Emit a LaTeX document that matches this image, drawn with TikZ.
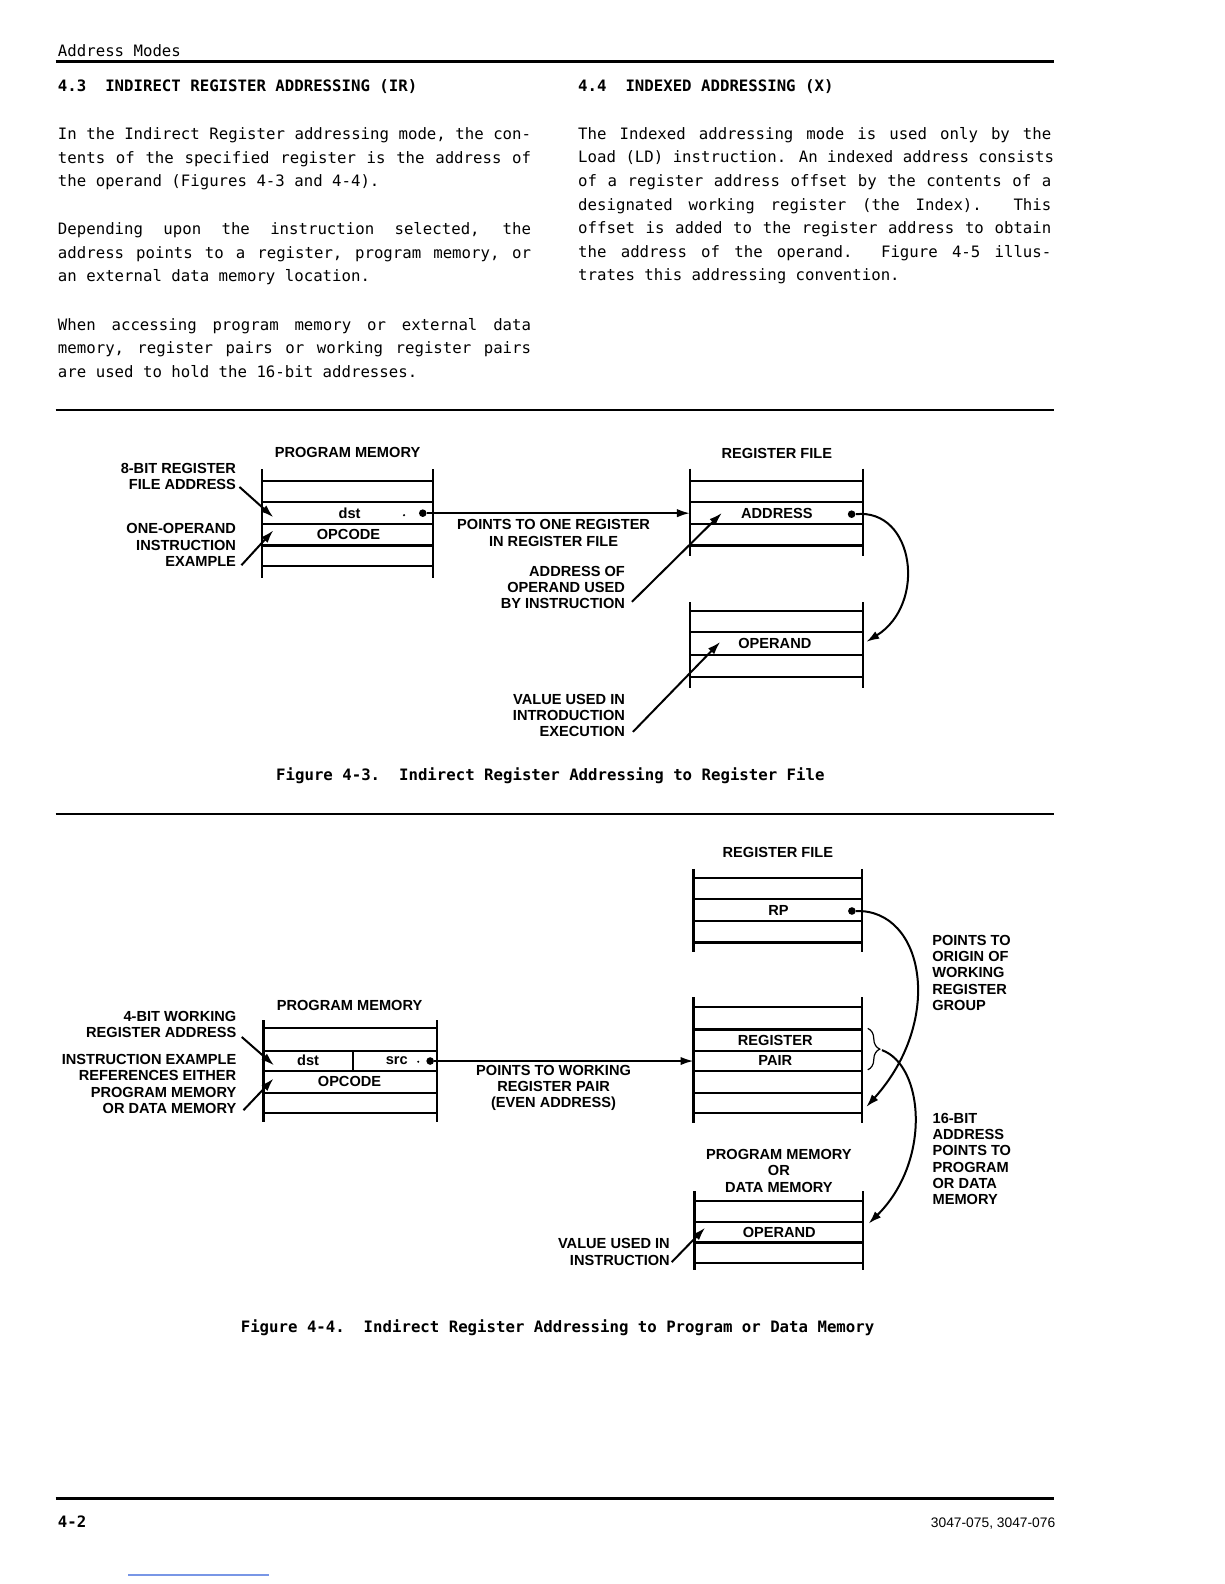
\documentclass[tikz,border=0pt]{standalone}
\usepackage{fontspec}
\setmainfont{Liberation Sans}
\newfontfamily\monof{DejaVu Sans Mono}
\newfontfamily\labf{Liberation Sans}
\usetikzlibrary{arrows.meta,decorations.pathreplacing}
\newcommand\jl[1]{\makebox[236.5pt][s]{\spaceskip=0.602em plus 1fil\relax #1}}
\begin{document}
\begin{tikzpicture}[x=0.50495pt,y=-0.50495pt,
  txt/.style={anchor=base west,inner sep=0pt,font=\monof\fontsize{7.85}{9}\selectfont},
  hd/.style={anchor=base west,inner sep=0pt,font=\monof\bfseries\fontsize{7.85}{9}\selectfont},
  lab/.style={inner sep=0pt,font=\labf\bfseries\fontsize{7.3}{8.1}\selectfont},
  mem/.style={line width=1.1pt},
  ptr/.style={line width=1pt,-{Latex[length=6.5pt,width=4.2pt]}},
  dotn/.style={circle,fill,inner sep=0pt,minimum size=3.8pt},
  sdot/.style={circle,fill,inner sep=0pt,minimum size=1.2pt},
  rulel/.style={line width=1pt},
  thickrule/.style={line width=1.4pt}]
\useasboundingbox (0,0) rectangle (1212,1568);
\fill[white] (0,0) rectangle (1212,1568);

% ---------- page header ----------
\node[txt] (hdr) at (57,56) {Address Modes};
\draw[thickrule] (55,61) -- (1043,61);
\node[hd] (h43) at (57,90.5) {4.3\ \ INDIRECT REGISTER ADDRESSING (IR)};
\node[hd] (h44) at (572,90.5) {4.4\ \ INDEXED ADDRESSING (X)};

% left column
\node[txt] (l1) at (57,138) {\jl{In the Indirect Register addressing mode, the con-}};
\node[txt] (l2) at (57,161.5) {\jl{tents of the specified register is the address of}};
\node[txt] (l3) at (57,185) {the operand (Figures 4-3 and 4-4).};
\node[txt] (l4) at (57,232) {\jl{Depending upon the instruction selected, the}};
\node[txt] (l5) at (57,255.5) {\jl{address points to a register, program memory, or}};
\node[txt] (l6) at (57,279) {an external data memory location.};
\node[txt] (l7) at (57,327) {\jl{When accessing program memory or external data}};
\node[txt] (l8) at (57,350) {\jl{memory, register pairs or working register pairs}};
\node[txt] (l9) at (57,373.5) {are used to hold the 16-bit addresses.};

% right column
\node[txt] (r1) at (572,138) {\jl{The Indexed addressing mode is used only by the}};
\node[txt] (r2) at (572,161) {\jl{Load (LD) instruction. An indexed address consists}};
\node[txt] (r3) at (572,184.5) {\jl{of a register address offset by the contents of a}};
\node[txt] (r4) at (572,208) {\jl{designated working register (the Index).\ \ This}};
\node[txt] (r5) at (572,231.5) {\jl{offset is added to the register address to obtain}};
\node[txt] (r6) at (572,255) {\jl{the address of the operand.\ \ Figure 4-5 illus-}};
\node[txt] (r7) at (572,278) {trates this addressing convention.};

\draw[rulel] (55,406) -- (1043,406);

% ---------- Figure 4-3 ----------
\node[lab] (pmt1) at (344,448) {PROGRAM MEMORY};
\draw[mem] (259,464.6) -- (259,572) (429,464.6) -- (429,572);
\foreach \y in {476,497,519,540,560} \draw[mem] (259,\y) -- (429,\y);
\node[lab] (dst1) at (346,508) {dst};
\node[lab] (opc1) at (345,529.5) {OPCODE};
\node[sdot] (sd1) at (400,510) {};
\node[dotn] (d1) at (418.5,508) {};

\node[lab] (rft1) at (769,449) {REGISTER FILE};
\draw[mem] (683,464) -- (683,550) (854,464) -- (854,550);
\foreach \y in {476,497,519,540} \draw[mem] (683,\y) -- (854,\y);
\node[lab] (addr1) at (769,508) {ADDRESS};
\node[dotn] (d2) at (843,509) {};
\coordinate (rf1in) at (683,508);

\draw[mem] (683,596) -- (683,681) (854,596) -- (854,681);
\foreach \y in {605,626,648,670} \draw[mem] (683,\y) -- (854,\y);
\node[lab] (oper1) at (767,637) {OPERAND};
\coordinate (op1in) at (857.5,635.4);

\draw[ptr] (d1) -- (rf1in);
\node[lab,align=center] (pt1) at (548,527.5) {POINTS TO ONE REGISTER\\IN REGISTER FILE};

\node[lab,align=right,anchor=east] (la1) at (234,472) {8-BIT REGISTER\\FILE ADDRESS};
\coordinate (la1s) at (237,482);
\coordinate (la1e) at (270.6,512);
\draw[ptr] (la1s) -- (la1e);

\node[lab,align=right,anchor=east] (la2) at (234,539.5) {ONE-OPERAND\\INSTRUCTION\\EXAMPLE};
\coordinate (la2s) at (239,559.5);
\coordinate (la2e) at (270.6,525);
\draw[ptr] (la2s) -- (la2e);

\node[lab,align=right,anchor=east] (la3) at (619,581.5) {ADDRESS OF\\OPERAND USED\\BY INSTRUCTION};
\coordinate (la3s) at (625.5,595.8);
\coordinate (la3e) at (714.6,507.7);
\draw[ptr] (la3s) -- (la3e);

\node[lab,align=right,anchor=east] (la4) at (619,708) {VALUE USED IN\\INTRODUCTION\\EXECUTION};
\coordinate (la4s) at (626.5,724.5);
\coordinate (la4e) at (713,635.4);
\draw[ptr] (la4s) -- (la4e);

\draw[ptr] (d2.east) .. controls (905,503) and (918,598) .. (op1in);

\node[hd] (cap3) at (273,772.5) {Figure 4-3.\ \ Indirect Register Addressing to Register File};

\draw[rulel] (55,806) -- (1043,806);

% ---------- Figure 4-4 ----------
\node[lab] (rft2) at (770,844) {REGISTER FILE};
\draw[mem] (686.5,860) -- (686.5,942) (853.3,860) -- (853.3,942);
\foreach \y in {869,890,912,933} \draw[mem] (686.5,\y) -- (853.3,\y);
\node[lab] (rp) at (770.7,901) {RP};
\node[dotn] (d3) at (843.3,901.8) {};

\draw[mem] (686.5,987) -- (686.5,1112) (853.3,987) -- (853.3,1112);
\foreach \y in {997,1019,1040,1060,1082,1102} \draw[mem] (686.5,\y) -- (853.3,\y);
\node[lab] (reg2) at (767.4,1029.5) {REGISTER};
\node[lab] (pair2) at (767.4,1050) {PAIR};
\coordinate (rf2in) at (686.5,1050.3);
\coordinate (grp) at (857.5,1095.8);
\draw[line width=0.6pt,decorate,decoration={brace,amplitude=6pt}] (859,1018) -- (859,1059);
\coordinate (btip) at (873,1039.5);

\node[lab] (pmt2) at (346,995) {PROGRAM MEMORY};
\draw[mem] (260.8,1010) -- (260.8,1111) (432.4,1010) -- (432.4,1111);
\foreach \y in {1018,1040,1060,1082,1102} \draw[mem] (260.8,\y) -- (432.4,\y);
\draw[mem] (349.2,1040) -- (349.2,1060);
\node[lab] (dst2) at (305,1050) {dst};
\node[lab] (src2) at (392.8,1050) {src};
\node[lab] (opc2) at (346,1071) {OPCODE};
\node[sdot] (sd2) at (414,1051) {};
\node[dotn] (d4) at (425.8,1050.3) {};

\draw[ptr] (d4) -- (rf2in);
\node[lab,align=center] (pt2) at (548,1077) {POINTS TO WORKING\\REGISTER PAIR\\(EVEN ADDRESS)};

\node[lab,align=right,anchor=east] (lb1) at (234.3,1014) {4-BIT WORKING\\REGISTER ADDRESS};
\coordinate (lb1s) at (239.3,1026.5);
\coordinate (lb1e) at (271.3,1054.6);
\draw[ptr] (lb1s) -- (lb1e);

\node[lab,align=right,anchor=east] (lb2) at (234.3,1073) {INSTRUCTION EXAMPLE\\REFERENCES EITHER\\PROGRAM MEMORY\\OR DATA MEMORY};
\coordinate (lb2s) at (241,1099);
\coordinate (lb2e) at (270.7,1067.7);
\draw[ptr] (lb2s) -- (lb2e);

\node[lab,align=left,anchor=west] (lb3) at (922.5,963) {POINTS TO\\ORIGIN OF\\WORKING\\REGISTER\\GROUP};
\node[lab,align=left,anchor=west] (lb4) at (922.8,1147.3) {16-BIT\\ADDRESS\\POINTS TO\\PROGRAM\\OR DATA\\MEMORY};

\node[lab,align=center] (pdm) at (771,1159) {PROGRAM MEMORY\\OR\\DATA MEMORY};
\draw[mem] (687.5,1179) -- (687.5,1257.5) (854.2,1179) -- (854.2,1257.5);
\foreach \y in {1189,1210,1230,1250} \draw[mem] (687.5,\y) -- (854.2,\y);
\node[lab] (oper2) at (771.4,1220) {OPERAND};
\coordinate (op2in) at (859.8,1211.3);

\node[lab,align=right,anchor=east] (lb5) at (663.4,1239.4) {VALUE USED IN\\INSTRUCTION};
\coordinate (lb5s) at (665,1249.3);
\coordinate (lb5e) at (698,1215.3);
\draw[ptr] (lb5s) -- (lb5e);

\draw[ptr] (d3.east) .. controls (915,900) and (935,1010) .. (grp);
\draw[ptr] (btip) .. controls (915,1055) and (922,1150) .. (op2in);

\node[hd] (cap4) at (238,1319.5) {Figure 4-4.\ \ Indirect Register Addressing to Program or Data Memory};

% ---------- footer ----------
\draw[thickrule] (55,1483) -- (1043,1483);
\node[hd] (pg) at (57,1512.5) {4-2};
\node[inner sep=0pt,anchor=base east,font=\labf\fontsize{6.9}{8}\selectfont] (ref) at (1045,1512) {3047-075, 3047-076};
\draw[line width=0.6pt,color={rgb,255:red,120;green,150;blue,230}] (127,1559) -- (266,1559);
\end{tikzpicture}
\end{document}
